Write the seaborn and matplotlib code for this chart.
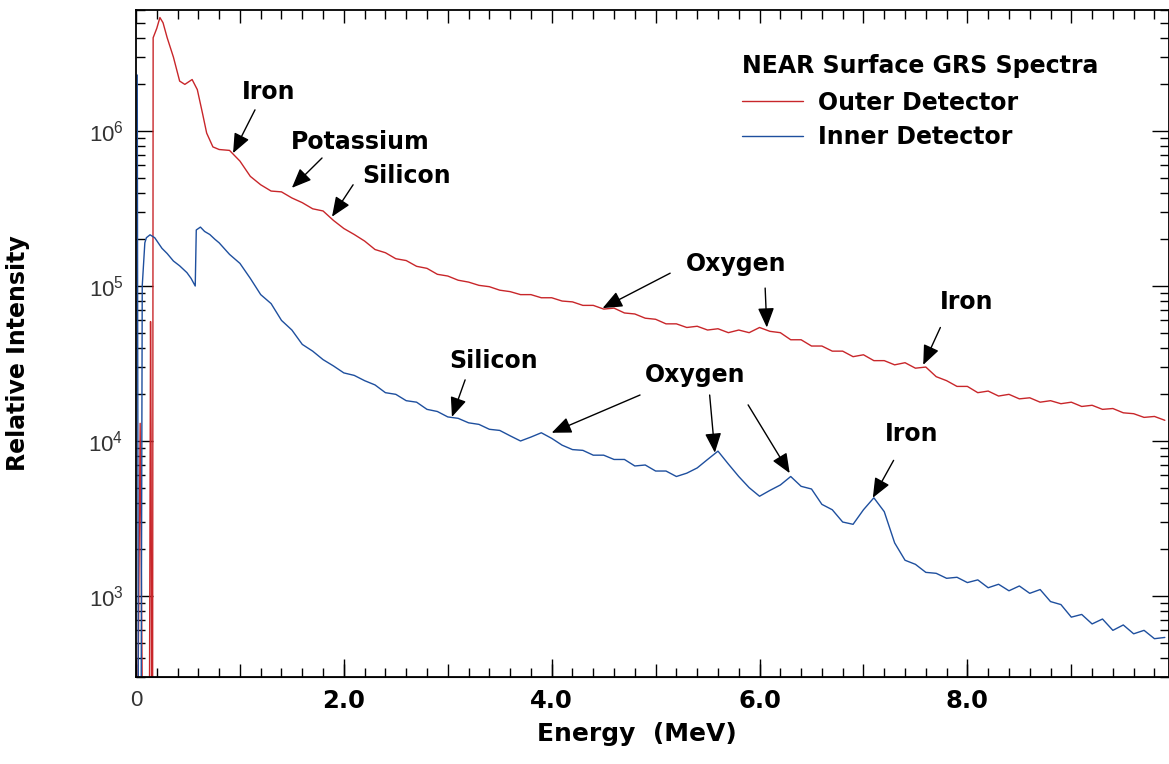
import numpy as np
import pandas as pd
import seaborn as sns
import matplotlib
matplotlib.use("Agg")
import matplotlib.pyplot as plt
from matplotlib.ticker import MultipleLocator, LogLocator, NullFormatter

# Spectrum readings (energy in MeV, relative intensity). Values below 300 are off-scale dips.
outer_low_energy = [0.02, 0.04, 0.06, 0.13, 0.14, 0.145, 0.15, 0.16, 0.165, 0.20, 0.23,
                    0.26, 0.30, 0.36, 0.42, 0.47, 0.54, 0.59, 0.64, 0.68, 0.74]
outer_low_intensity = [250, 1.3e4, 250, 250, 5.9e4, 1.1e4, 250, 250, 4.0e6, 4.6e6, 5.4e6,
                       5.0e6, 4.0e6, 3.0e6, 2.1e6, 2.0e6, 2.15e6, 1.85e6, 1.3e6, 9.7e5, 7.9e5]

inner_low_energy = [0.012, 0.022, 0.05, 0.06, 0.085, 0.10, 0.135, 0.18, 0.25, 0.30,
                    0.36, 0.42, 0.49, 0.53, 0.57, 0.58, 0.62, 0.66, 0.71, 0.76]
inner_low_intensity = [2.3e6, 250, 250, 1.0e5, 1.9e5, 2.05e5, 2.14e5, 2.05e5, 1.75e5, 1.62e5,
                       1.45e5, 1.35e5, 1.22e5, 1.12e5, 1.0e5, 2.3e5, 2.4e5, 2.25e5, 2.15e5, 2.0e5]

# channels from 0.8 to 9.9 MeV, every 0.1 MeV
grid_energy = np.round(np.arange(0.8, 9.95, 0.1), 2)

outer_intensity = [
    7.6e5, 7.5e5, 6.4e5, 5.1e5, 4.5e5, 4.1e5, 4.05e5, 3.7e5, 3.45e5, 3.15e5,
    3.05e5, 2.65e5, 2.35e5, 2.15e5, 1.95e5, 1.72e5, 1.64e5, 1.50e5, 1.46e5, 1.34e5,
    1.30e5, 1.19e5, 1.16e5, 1.09e5, 1.06e5, 1.01e5, 9.9e4, 9.4e4, 9.2e4, 8.8e4,
    8.8e4, 8.4e4, 8.4e4, 8.0e4, 7.9e4, 7.5e4, 7.5e4, 7.1e4, 7.2e4, 6.7e4,
    6.6e4, 6.2e4, 6.1e4, 5.7e4, 5.7e4, 5.4e4, 5.5e4, 5.2e4, 5.3e4, 5.0e4,
    5.2e4, 5.0e4, 5.4e4, 5.1e4, 5.0e4, 4.5e4, 4.5e4, 4.1e4, 4.1e4, 3.8e4,
    3.8e4, 3.5e4, 3.6e4, 3.3e4, 3.3e4, 3.1e4, 3.2e4, 2.95e4, 3.0e4, 2.6e4,
    2.45e4, 2.25e4, 2.25e4, 2.05e4, 2.1e4, 1.95e4, 2.0e4, 1.87e4, 1.9e4, 1.78e4,
    1.82e4, 1.74e4, 1.78e4, 1.67e4, 1.70e4, 1.60e4, 1.62e4, 1.52e4, 1.50e4, 1.42e4,
    1.44e4, 1.36e4]

inner_intensity = [
    1.9e5, 1.6e5, 1.4e5, 1.12e5, 8.8e4, 7.7e4, 6.0e4, 5.2e4, 4.2e4, 3.8e4,
    3.35e4, 3.05e4, 2.75e4, 2.65e4, 2.45e4, 2.3e4, 2.05e4, 2.0e4, 1.82e4, 1.78e4,
    1.60e4, 1.55e4, 1.43e4, 1.40e4, 1.31e4, 1.28e4, 1.19e4, 1.17e4, 1.08e4, 1.0e4,
    1.06e4, 1.13e4, 1.04e4, 9.4e3, 8.8e3, 8.7e3, 8.1e3, 8.1e3, 7.6e3, 7.6e3,
    6.9e3, 7.0e3, 6.4e3, 6.4e3, 5.9e3, 6.2e3, 6.7e3, 7.6e3, 8.6e3, 7.1e3,
    5.9e3, 5.0e3, 4.4e3, 4.8e3, 5.2e3, 5.9e3, 5.1e3, 4.9e3, 3.9e3, 3.6e3,
    3.0e3, 2.9e3, 3.6e3, 4.3e3, 3.5e3, 2.2e3, 1.7e3, 1.6e3, 1.42e3, 1.40e3,
    1.30e3, 1.32e3, 1.22e3, 1.27e3, 1.13e3, 1.19e3, 1.08e3, 1.16e3, 1.04e3, 1.10e3,
    9.2e2, 8.8e2, 7.3e2, 7.6e2, 6.6e2, 7.1e2, 6.0e2, 6.5e2, 5.7e2, 6.0e2,
    5.3e2, 5.4e2]

# line annotations
label_text = ["Iron", "Potassium", "Silicon", "Oxygen", "Iron", "Silicon", "Oxygen", "Iron"]
label_energy = [1.275, 2.156, 2.608, 5.775, 7.99, 3.436, 5.38, 7.46]
label_intensity = [1.79e6, 8.5e5, 5.1e5, 1.39e5, 7.9e4, 3.3e4, 2.67e4, 1.11e4]

arrow_tail_energy = [1.145, 1.79, 2.089, 5.14, 6.054, 7.74, 3.167, 4.85, 5.52, 5.89, 7.29]
arrow_tail_intensity = [1.37e6, 6.7e5, 4.5e5, 1.21e5, 9.7e4, 5.4e4, 2.48e4, 1.98e4, 1.98e4, 1.71e4, 7.5e3]
arrow_tip_energy = [0.934, 1.50, 1.886, 4.49, 6.07, 7.575, 3.04, 4.0, 5.57, 6.29, 7.09]
arrow_tip_intensity = [7.2e5, 4.3e5, 2.8e5, 7.2e4, 5.4e4, 3.1e4, 1.43e4, 1.13e4, 8.4e3, 6.2e3, 4.3e3]

tick_positions = [0, 2, 4, 6, 8]
tick_labels = ["0", "2.0", "4.0", "6.0", "8.0"]

RED = "#c8262a"
BLUE = "#1e4f9e"

sns.set_style("ticks")
plt.rcParams['font.family'] = ['DejaVu Sans']
plt.rcParams['mathtext.fontset'] = 'custom'
plt.rcParams['mathtext.rm'] = 'Liberation Sans'
plt.rcParams['mathtext.default'] = 'regular'
plt.rcParams['text.color'] = 'black'
plt.rcParams['axes.labelcolor'] = 'black'
plt.rcParams['xtick.color'] = 'black'
plt.rcParams['ytick.color'] = 'black'

df_outer = pd.DataFrame({'energy': list(outer_low_energy) + list(grid_energy),
                         'intensity': outer_low_intensity + outer_intensity})
df_outer['detector'] = 'Outer Detector'
df_inner = pd.DataFrame({'energy': list(inner_low_energy) + list(grid_energy),
                         'intensity': inner_low_intensity + inner_intensity})
df_inner['detector'] = 'Inner Detector'
df = pd.concat([df_outer, df_inner], ignore_index=True)

fig, ax = plt.subplots(figsize=(11.69, 7.64), dpi=100)
fig.subplots_adjust(left=136/1169, right=1.0, bottom=1-677/764, top=1-10/764)

sns.lineplot(data=df, x='energy', y='intensity', hue='detector',
             palette={'Outer Detector': RED, 'Inner Detector': BLUE},
             estimator=None, sort=False, lw=1.0, ax=ax)

ax.set_yscale('log')
ax.set_xlim(0, 9.94)
ax.set_ylim(300, 6.04e6)

# ticks: all inward, on all four sides
ax.yaxis.set_major_locator(LogLocator(base=10))
ax.yaxis.set_minor_locator(LogLocator(base=10, subs=np.arange(2, 10)))
ax.yaxis.set_minor_formatter(NullFormatter())
ax.xaxis.set_major_locator(MultipleLocator(1))
ax.xaxis.set_minor_locator(MultipleLocator(0.2))
ax.tick_params(axis='both', which='both', direction='in', top=True, right=True, width=1.0, color='black')
ax.tick_params(axis='x', which='major', length=9.5, labelbottom=False)
ax.tick_params(axis='x', which='minor', length=6.5)
ax.tick_params(axis='y', which='major', length=12, pad=9, labelsize=16, labelcolor='#333333')
ax.tick_params(axis='y', which='minor', length=6.5)
for lab in ax.get_yticklabels():
    lab.set_fontfamily('Liberation Sans')
for sp in ax.spines.values():
    sp.set_linewidth(1.3)
    sp.set_color('black')

sec = ax.secondary_xaxis('bottom')
sec.set_xticks(tick_positions, tick_labels)
sec.tick_params(direction='in', length=13, width=1.0, pad=9, labelsize=17.5, labelcolor='black')
for i, lab in enumerate(sec.get_xticklabels()):
    if i == 0:
        lab.set_fontfamily('Liberation Sans')
        lab.set_fontsize(16)
        lab.set_color('#333333')
    else:
        lab.set_fontweight('bold')

ax.set_xlabel('Energy  (MeV)', fontsize=18, fontweight='bold')
ax.xaxis.set_label_coords(0.485, -0.0675)
ax.set_ylabel('Relative Intensity', fontsize=17, fontweight='bold')
ax.yaxis.set_label_coords(-0.1026, 0.486)

handles, labels = ax.get_legend_handles_labels()
leg = ax.legend(handles, labels, title='NEAR Surface GRS Spectra', loc='upper left',
                bbox_to_anchor=(0.5866, 0.934), frameon=False,
                prop={'weight': 'bold', 'size': 17},
                title_fontproperties={'weight': 'bold', 'size': 17},
                alignment='left', handlelength=2.6, handletextpad=0.6,
                labelspacing=0.45, borderpad=0, borderaxespad=0)
leg._legend_box.sep = 9
for line in leg.get_lines():
    line.set_linewidth(1.0)

for txt, e, v in zip(label_text, label_energy, label_intensity):
    ax.text(e, v, txt, ha='center', va='center', fontsize=17, fontweight='bold', color='black')

for te, tv, he, hv in zip(arrow_tail_energy, arrow_tail_intensity, arrow_tip_energy, arrow_tip_intensity):
    ax.annotate('', xy=(he, hv), xytext=(te, tv),
                arrowprops=dict(arrowstyle='-|>,head_length=0.6,head_width=0.25',
                                color='black', lw=1.0, shrinkA=0, shrinkB=0, mutation_scale=20))

fig.savefig('out.png', dpi=100)
